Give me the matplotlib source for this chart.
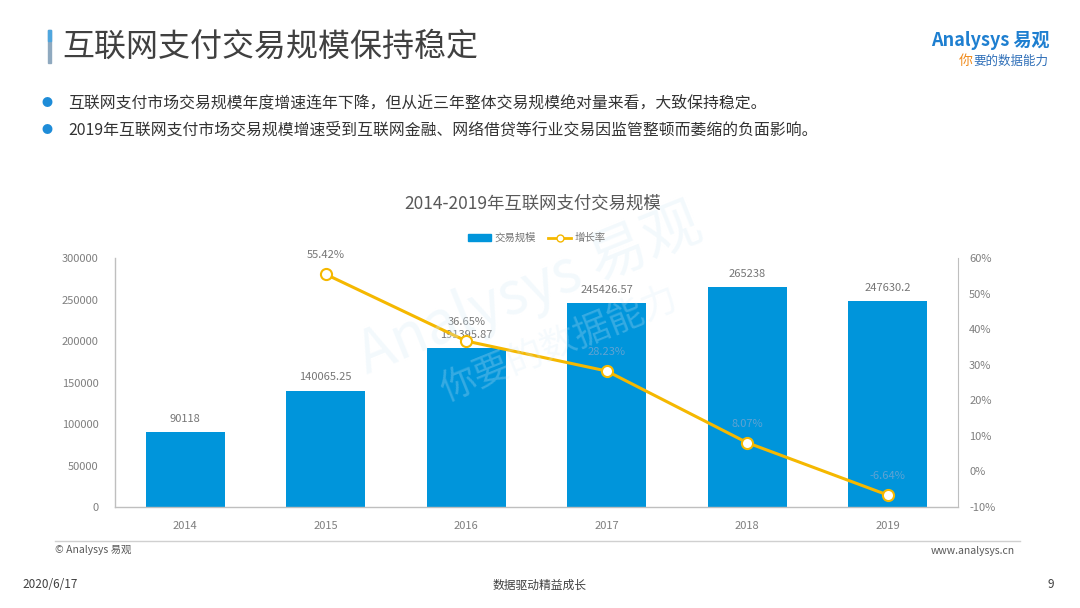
import matplotlib
matplotlib.use("Agg")
import matplotlib.pyplot as plt
from matplotlib.patches import Rectangle
from matplotlib.lines import Line2D

plt.rcParams['font.family'] = ['Noto Sans CJK SC', 'DejaVu Sans']

years = ["2014", "2015", "2016", "2017", "2018", "2019"]
volume = [90118, 140065.25, 191395.87, 245426.57, 265238, 247630.2]
volume_labels = ["90118", "140065.25", "191395.87", "245426.57", "265238", "247630.2"]
growth_years = ["2015", "2016", "2017", "2018", "2019"]
growth = [55.42, 36.65, 28.23, 8.07, -6.64]
left_ticks = [0, 50000, 100000, 150000, 200000, 250000, 300000]
right_ticks = [-10, 0, 10, 20, 30, 40, 50, 60]

BLUE = "#0095DB"
GOLD = "#F5B800"
GRAY = "#7F7F7F"
AXIS = "#BFBFBF"

fig = plt.figure(figsize=(10.8, 6.08), dpi=100)
W, H = 1080, 608

def fx(px):
    return px / W

def fy(py):
    return 1 - py / H

# header accent bar
fig.patches.append(Rectangle((fx(48), fy(63)), fx(3), (63 - 30) / H, transform=fig.transFigure,
                             color="#8FA9BF", zorder=1))
fig.patches.append(Rectangle((fx(48), fy(41)), fx(3), (41 - 30) / H, transform=fig.transFigure,
                             color="#4FA6DE", zorder=2))
fig.text(fx(62), fy(47), "互联网支付交易规模保持稳定", fontsize=23, color="#404040",
         va="center", ha="left")

# logo
fig.text(fx(1050), fy(40), "Analysys 易观", fontsize=13, color="#1E7FD0", ha="right",
         va="center", fontweight="bold", style="italic")
fig.text(fx(1048), fy(61), "要的数据能力", fontsize=9, color="#2F6FB8", ha="right",
         va="center", style="italic")
fig.text(fx(973), fy(61), "你", fontsize=10, color="#F08C1E", ha="right",
         va="center", style="italic")

# bullets
bullets = ["互联网支付市场交易规模年度增速连年下降，但从近三年整体交易规模绝对量来看，大致保持稳定。",
           "2019年互联网支付市场交易规模增速受到互联网金融、网络借贷等行业交易因监管整顿而萎缩的负面影响。"]
for i, b in enumerate(bullets):
    y = 103 + i * 27
    fig.text(fx(47), fy(y), "●", fontsize=8, color="#1E8CD8", ha="center", va="center")
    fig.text(fx(68), fy(y), b, fontsize=11.4, color="#333333", ha="left", va="center")

# chart title
fig.text(fx(533), fy(204), "2014-2019年互联网支付交易规模", fontsize=12.5, color="#595959",
         ha="center", va="center")

# watermark
fig.text(fx(530), fy(290), "Analysys 易观", fontsize=42, color="#D8ECF8", alpha=0.3,
         rotation=22, ha="center", va="center", style="italic", zorder=0)
fig.text(fx(560), fy(345), "你要的数据能力", fontsize=26, color="#D8ECF8", alpha=0.25,
         rotation=22, ha="center", va="center", zorder=0)

ax = fig.add_axes([fx(115), fy(507), fx(958) - fx(115), (507 - 258) / H])
ax.patch.set_alpha(0)
x = list(range(len(years)))
bars = ax.bar(x, volume, width=0.56, color=BLUE, zorder=2)
ax.set_xlim(-0.5, len(years) - 0.5)
ax.set_ylim(0, 300000)
ax.set_yticks(left_ticks)
ax.set_yticklabels([str(t) for t in left_ticks])
ax.set_xticks(x)
ax.set_xticklabels(years)
ax.tick_params(axis="both", length=0, labelsize=8, colors=GRAY)
ax.tick_params(axis="y", pad=12)
ax.tick_params(axis="x", pad=10)
for s in ["top", "right"]:
    ax.spines[s].set_visible(False)
for s in ["left", "bottom"]:
    ax.spines[s].set_color(AXIS)
    ax.spines[s].set_linewidth(1)
for xi, v, lab in zip(x, volume, volume_labels):
    ax.annotate(lab, (xi, v), xytext=(0, 6), textcoords="offset points", ha="center",
                va="bottom", fontsize=8, color="#767676", zorder=5)

ax2 = ax.twinx()
gx = [years.index(g) for g in growth_years]
ax2.plot(gx, growth, color=GOLD, linewidth=2.2, marker="o", markersize=8,
         markerfacecolor="white", markeredgecolor=GOLD, markeredgewidth=1.5, zorder=4)
ax2.set_ylim(-10, 60)
ax2.set_yticks(right_ticks)
ax2.set_yticklabels([f"{t}%" for t in right_ticks])
ax2.tick_params(axis="y", length=0, labelsize=8, colors=GRAY, pad=8)
for s in ["top", "left", "bottom"]:
    ax2.spines[s].set_visible(False)
ax2.spines["right"].set_color(AXIS)
for xi, g in zip(gx, growth):
    on_bar = g < volume[xi] / 300000 * 70 - 10
    ax2.annotate(f"{g:.2f}%", (xi, g), xytext=(0, 10), textcoords="offset points",
                 ha="center", va="bottom", fontsize=8,
                 color="#5FA3D3" if on_bar else "#767676", zorder=5)

# legend
handles = [Rectangle((0, 0), 1, 1, color=BLUE),
           Line2D([0], [0], color=GOLD, linewidth=2, marker="o", markersize=5,
                  markerfacecolor="white", markeredgecolor=GOLD)]
leg = fig.legend(handles, ["交易规模", "增长率"], loc="center", bbox_to_anchor=(fx(537), fy(238)),
                 ncol=2, frameon=False, fontsize=7.5, handlelength=2.2, handleheight=0.6,
                 columnspacing=1.2, handletextpad=0.3)
for t in leg.get_texts():
    t.set_color("#767676")

# footer
fig.add_artist(Line2D([fx(55), fx(1020)], [fy(541), fy(541)], color="#D0D0D0", linewidth=1))
fig.text(fx(55), fy(550), "© Analysys 易观", fontsize=7.5, color="#595959", ha="left", va="center")
fig.text(fx(1015), fy(551), "www.analysys.cn", fontsize=7.5, color="#595959", ha="right", va="center")
fig.text(fx(22), fy(585), "2020/6/17", fontsize=8.5, color="#404040", ha="left", va="center")
fig.text(fx(540), fy(585), "数据驱动精益成长", fontsize=8.5, color="#404040", ha="center", va="center")
fig.text(fx(1054), fy(585), "9", fontsize=8.5, color="#404040", ha="right", va="center")

fig.savefig("out.png", dpi=100)
